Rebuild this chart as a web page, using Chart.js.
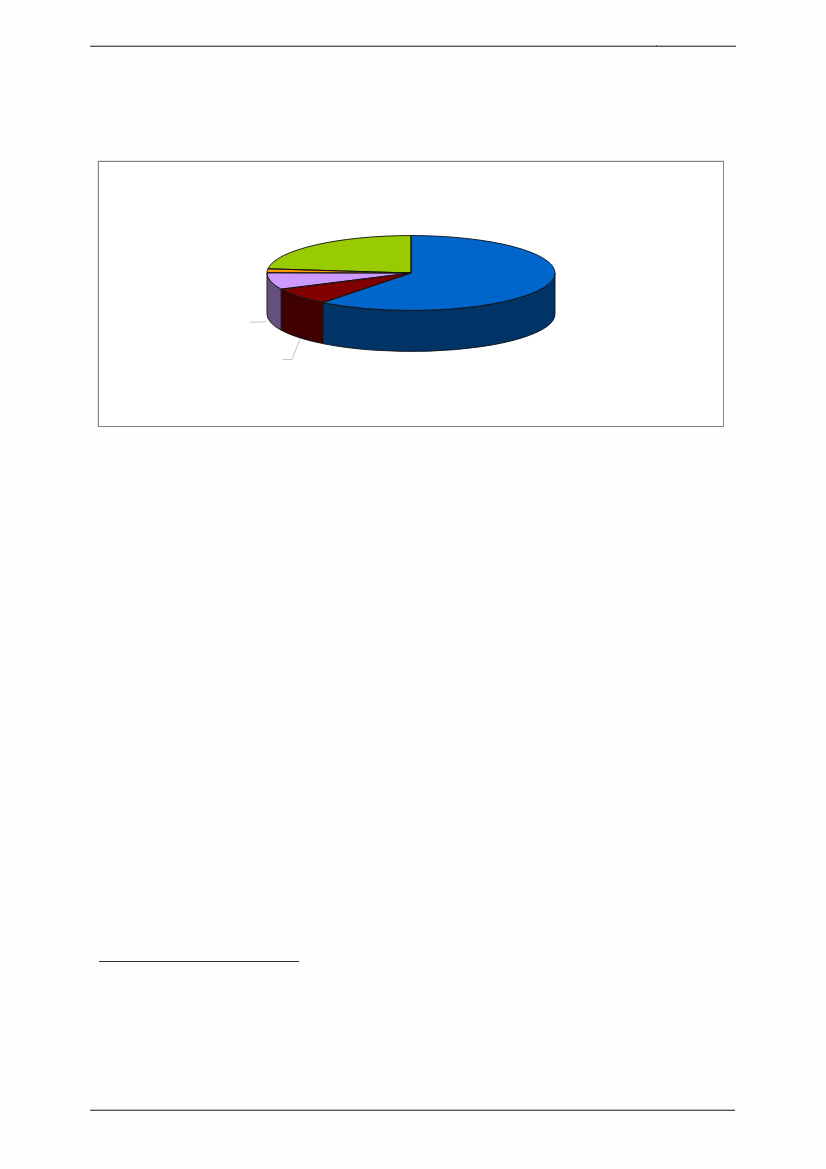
<!DOCTYPE html>
<html><head><meta charset="utf-8">
<style>
html,body{margin:0;padding:0;background:#fefefe;width:826px;height:1169px;overflow:hidden}
.l{position:absolute;background:#555}
#box{position:absolute;left:98px;top:161px;width:624px;height:264px;border:1px solid #858585;box-shadow:0 -1px 0 #e4e4e4,-1px 0 0 #e4e4e4;background:#fff}
canvas{position:absolute;left:0;top:0}
</style>
<script src="https://cdn.jsdelivr.net/npm/chart.js@4"></script>
</head><body>
<div class="l" style="left:90px;top:45px;width:646px;height:1px;background:#bdbdbd"></div>
<div class="l" style="left:90px;top:46px;width:646px;height:1px"></div>
<div class="l" style="left:656px;top:45px;width:1px;height:1px"></div>
<div id="box"></div>
<div class="l" style="left:99px;top:961px;width:200px;height:1px;background:#333"></div>
<div class="l" style="left:90px;top:1109px;width:645px;height:1px;background:#bdbdbd"></div>
<div class="l" style="left:90px;top:1110px;width:645px;height:1px"></div>
<canvas id="c" width="826" height="1169"></canvas>
<script>
const categories = ['Slice 1','Slice 2','Slice 3','Slice 4','Slice 5'];
const values = [60.5, 7.4, 7.2, 1.7, 23.2];
const topColors = ['#0066CC','#800000','#CC99FF','#FF9900','#99CC00'];
const sideColors = ['#003366','#400000','#665080','#804D00','#4D6600'];
const leaderSlices = [1,2];

const squash = 0.26, depth = 41;
const ellipse = (ctx,a,r,dy,a0,a1,ccw)=>ctx.ellipse(a.x,a.y+dy,r,r*squash,0,a0,a1,!!ccw);

const pie3d = {
  id:'pie3d',
  beforeDatasetsDraw(chart){
    const ctx = chart.ctx, arcs = chart.getDatasetMeta(0).data;
    ctx.save();
    ctx.lineWidth = 0.9; ctx.strokeStyle = '#111';
    arcs.forEach((a,i)=>{
      const a0 = Math.max(a.startAngle,0), a1 = Math.min(a.endAngle,Math.PI);
      if(a1<=a0) return;
      const r = a.outerRadius;
      ctx.beginPath();
      ellipse(ctx,a,r,0,a0,a1);
      ellipse(ctx,a,r,depth,a1,a0,true);
      ctx.closePath();
      ctx.fillStyle = sideColors[i];
      ctx.fill(); ctx.stroke();
    });
    ctx.restore();
    // leader lines, anchored on the slices they belong to
    ctx.save();
    ctx.strokeStyle = '#c4c4c4'; ctx.lineWidth = 1;
    leaderSlices.forEach(i=>{
      const a = arcs[i], m = (a.startAngle+a.endAngle)/2, r = a.outerRadius;
      const x = a.x+r*Math.cos(m), y = a.y+r*squash*Math.sin(m)+depth;
      ctx.beginPath();
      if(i===2){ ctx.moveTo(x-4,y-1); ctx.lineTo(x-9,y); ctx.lineTo(x-21,y); }
      else { ctx.moveTo(x+1,y+2); ctx.lineTo(x-7,y+22); ctx.lineTo(x-16,y+22); }
      ctx.stroke();
    });
    ctx.restore();
    const c = arcs[0];
    ctx.save();
    ctx.translate(c.x,c.y); ctx.scale(1,squash); ctx.translate(-c.x,-c.y);
  },
  afterDatasetsDraw(chart){
    const ctx = chart.ctx, arcs = chart.getDatasetMeta(0).data;
    ctx.restore();
    ctx.save();
    ctx.lineWidth = 0.9; ctx.strokeStyle = '#111'; ctx.lineJoin='round';
    arcs.forEach(a=>{
      ctx.beginPath();
      ctx.moveTo(a.x,a.y);
      ellipse(ctx,a,a.outerRadius,0,a.startAngle,a.endAngle);
      ctx.closePath();
      ctx.stroke();
    });
    ctx.restore();
  }
};

new Chart(document.getElementById('c'),{
  type:'pie',
  data:{labels:categories,datasets:[{data:values,backgroundColor:topColors,borderWidth:0,radius:144}]},
  options:{
    responsive:false,animation:false,devicePixelRatio:1,
    layout:{padding:{left:0,right:4,top:0,bottom:623}},
    plugins:{legend:{display:false},tooltip:{enabled:false}}
  },
  plugins:[pie3d]
});
</script>
</body></html>
